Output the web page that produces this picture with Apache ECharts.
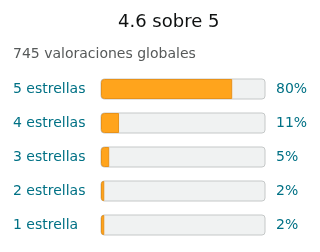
<!DOCTYPE html>
<html>
<head>
    <meta charset="utf-8">
    <title></title>
    <style>
        body { margin: 0; background: #fff; }
    </style>
</head>
<body>
    <div id="main" style="width: 320px;height:252px;"></div>
    <script src="https://cdn.jsdelivr.net/npm/echarts@6/dist/echarts.min.js"></script>
    <script>
    var categories = ['5 estrellas', '4 estrellas', '3 estrellas', '2 estrellas', '1 estrella'];
    var percents = [80, 11, 5, 2, 2];
    var percentLabels = ['80%', '11%', '5%', '2%', '2%'];

    var myChart = echarts.init(document.getElementById('main'));
    var option = {
        animation: false,
        textStyle: { fontFamily: 'DejaVu Sans' },
        title: [{
            text: '4.6 sobre 5',
            left: 118,
            top: 13,
            padding: 0,
            textStyle: { fontSize: 18, fontWeight: 'normal', color: '#0f1111', fontFamily: 'DejaVu Sans' }
        }, {
            text: '745 valoraciones globales',
            left: 13,
            top: 47,
            padding: 0,
            textStyle: { fontSize: 14, fontWeight: 'normal', color: '#565959', fontFamily: 'DejaVu Sans' }
        }],
        grid: { left: 101, right: 55, top: 72, bottom: 10 },
        xAxis: { type: 'value', min: 0, max: 100, show: false },
        yAxis: [{
            type: 'category',
            data: categories,
            inverse: true,
            axisLine: { show: false },
            axisTick: { show: false },
            axisLabel: { align: 'left', margin: 88, fontSize: 14, color: '#007185', fontFamily: 'DejaVu Sans' }
        }, {
            type: 'category',
            data: percentLabels,
            inverse: true,
            position: 'right',
            axisLine: { show: false },
            axisTick: { show: false },
            axisLabel: { align: 'left', margin: 11, fontSize: 14, color: '#007185', fontFamily: 'DejaVu Sans' }
        }],
        series: [{
            type: 'bar',
            data: percents,
            barWidth: 20,
            showBackground: true,
            backgroundStyle: {
                color: '#f0f2f2',
                borderColor: '#c5c8c8',
                borderWidth: 1,
                borderRadius: 3
            },
            itemStyle: {
                color: '#ffa41c',
                borderColor: '#e8921a',
                borderWidth: 1,
                borderRadius: [3, 0, 0, 3]
            }
        }]
    };
    myChart.setOption(option);
    </script>
</body>
</html>
